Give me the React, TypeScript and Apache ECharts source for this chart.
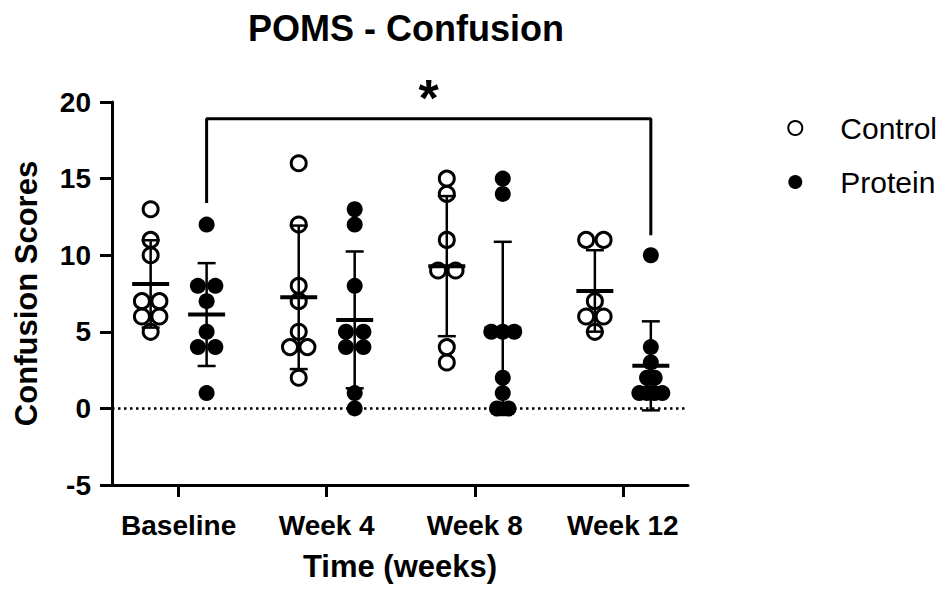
import React, { useEffect, useRef } from "react";
import * as echarts from "echarts";

const categories = ["Baseline", "Week 4", "Week 8", "Week 12"];

const controlBaseline = [13, 11, 10, 7, 7, 6, 6, 5];
const controlWeek4 = [16, 12, 8, 7, 5, 4, 4, 2];
const controlWeek8 = [15, 14, 11, 9, 9, 4, 3];
const controlWeek12 = [11, 11, 7, 6, 6, 5];

const proteinBaseline = [12, 8, 8, 7, 5, 4, 4, 1];
const proteinWeek4 = [13, 12, 8, 5, 5, 4, 4, 1, 0];
const proteinWeek8 = [15, 14, 5, 5, 5, 2, 1, 0, 0];
const proteinWeek12 = [10, 4, 3, 2, 2, 1, 1, 1, 1];

const yTicks = [-5, 0, 5, 10, 15, 20];

// significance bracket: from Protein Baseline to Protein Week 12
const bracketFrom = { group: 0, low: 13.4 };
const bracketTo = { group: 3, low: 11.3 };
const bracketTop = 18.9;
const bracketLabel = "*";
const bracketLabelY = 20.25;

const controlGroups = [controlBaseline, controlWeek4, controlWeek8, controlWeek12];
const proteinGroups = [proteinBaseline, proteinWeek4, proteinWeek8, proteinWeek12];

const X_MIN = -0.45;
const X_MAX = 3.44;
const OFFSET = 0.189;
const FONT = "'Liberation Sans', Arial, Helvetica, sans-serif";

function mean(a: number[]) {
  return a.reduce((s, v) => s + v, 0) / a.length;
}
function sd(a: number[]) {
  const m = mean(a);
  return Math.sqrt(a.reduce((s, v) => s + (v - m) * (v - m), 0) / (a.length - 1));
}
function spread(values: number[], center: number) {
  const counts = new Map<number, number>();
  values.forEach((v) => counts.set(v, (counts.get(v) || 0) + 1));
  const maxDup = Math.max(...Array.from(counts.values()));
  const step = maxDup > 1 ? Math.min(0.118, 0.155 / (maxDup - 1)) : 0;
  const seen = new Map<number, number>();
  return values.map((v) => {
    const n = counts.get(v) || 1;
    const k = seen.get(v) || 0;
    seen.set(v, k + 1);
    return [center + (k - (n - 1) / 2) * step, v];
  });
}

function errorRender(params: any, api: any) {
  const x = api.value(0);
  const m = api.value(1);
  const s = api.value(2);
  const c = api.coord([x, m]);
  const t = api.coord([x, m + s]);
  const b = api.coord([x, m - s]);
  const st = { stroke: "#000", lineWidth: 2.5 };
  return {
    type: "group",
    children: [
      { type: "line", shape: { x1: c[0], y1: t[1], x2: c[0], y2: b[1] }, style: st },
      { type: "line", shape: { x1: c[0] - 9, y1: t[1], x2: c[0] + 9, y2: t[1] }, style: st },
      { type: "line", shape: { x1: c[0] - 9, y1: b[1], x2: c[0] + 9, y2: b[1] }, style: st },
      {
        type: "line",
        shape: { x1: c[0] - 18.5, y1: c[1], x2: c[0] + 18.5, y2: c[1] },
        style: { stroke: "#000", lineWidth: 4 },
      },
    ],
  };
}

export default function App() {
  const ref = useRef<HTMLDivElement>(null);
  useEffect(() => {
    if (!ref.current) return;
    const chart = echarts.init(ref.current, undefined, { renderer: "svg" });

    const controlData = controlGroups.flatMap((g, i) => spread(g, i - OFFSET));
    const proteinData = proteinGroups.flatMap((g, i) => spread(g, i + OFFSET));
    const controlStats = controlGroups.map((g, i) => [i - OFFSET, mean(g), sd(g)]);
    const proteinStats = proteinGroups.map((g, i) => [i + OFFSET, mean(g), sd(g)]);

    const bx1 = bracketFrom.group + OFFSET;
    const bx2 = bracketTo.group + OFFSET;
    const bracketData = [
      [bx1, bracketFrom.low],
      [bx1, bracketTop],
      [bx2, bracketTop],
      [bx2, bracketTo.low],
    ];

    chart.setOption({
      animation: false,
      backgroundColor: "#fff",
      textStyle: { fontFamily: FONT, color: "#000" },
      title: {
        text: "POMS - Confusion",
        left: 401,
        textAlign: "center",
        top: 5,
        textStyle: { fontFamily: FONT, fontSize: 36, fontWeight: "bold", color: "#000" },
      },
      legend: {
        orient: "vertical",
        right: 8,
        top: 113,
        padding: 0,
        align: "left",
        itemWidth: 80,
        itemHeight: 14,
        itemGap: 24,
        icon: "circle",
        textStyle: { fontFamily: FONT, fontSize: 30, color: "#000", lineHeight: 30 },
        data: ["Control", "Protein"],
      },
      grid: { left: 112, right: 257, top: 102, bottom: 107 },
      xAxis: {
        type: "value",
        min: X_MIN,
        max: X_MAX,
        name: "Time (weeks)",
        nameLocation: "middle",
        nameGap: 66,
        nameTextStyle: { fontFamily: FONT, fontSize: 31, fontWeight: "bold", color: "#000" },
        splitLine: { show: false },
        axisLine: { onZero: false, lineStyle: { color: "#000", width: 3 } },
        axisTick: {
          customValues: [0, 1, 2, 3],
          length: 12,
          lineStyle: { color: "#000", width: 3 },
        },
        axisLabel: {
          customValues: [0, 1, 2, 3],
          formatter: (v: number) => categories[Math.round(v)],
          fontFamily: FONT,
          fontSize: 28,
          fontWeight: "bold",
          color: "#000",
          margin: 26,
        },
      },
      yAxis: {
        type: "value",
        min: yTicks[0],
        max: yTicks[yTicks.length - 1],
        interval: 5,
        name: "Confusion Scores",
        nameLocation: "middle",
        nameGap: 70,
        nameTextStyle: { fontFamily: FONT, fontSize: 31, fontWeight: "bold", color: "#000" },
        splitLine: { show: false },
        axisLine: { onZero: false, lineStyle: { color: "#000", width: 3 } },
        axisTick: { length: 12, lineStyle: { color: "#000", width: 3 } },
        axisLabel: {
          fontFamily: FONT,
          fontSize: 28,
          fontWeight: "bold",
          color: "#000",
          margin: 21,
        },
      },
      series: [
        {
          name: "Control",
          type: "scatter",
          data: controlData,
          symbol: "circle",
          symbolSize: 15,
          itemStyle: {
            color: "rgba(255,255,255,0)",
            borderColor: "#000",
            borderWidth: 3,
            opacity: 1,
          },
          z: 3,
        },
        {
          name: "Protein",
          type: "scatter",
          data: proteinData,
          symbol: "circle",
          symbolSize: 16,
          itemStyle: { color: "#000", opacity: 1 },
          z: 3,
          markLine: {
            silent: true,
            symbol: ["none", "none"],
            label: { show: false },
            data: [{ yAxis: 0 }],
            lineStyle: { color: "#000", width: 2.5, type: [2.5, 3.5] },
            z: 1,
          },
        },
        {
          type: "custom",
          name: "ControlStats",
          data: controlStats,
          renderItem: errorRender,
          encode: { x: 0, y: 1 },
          z: 4,
        },
        {
          type: "custom",
          name: "ProteinStats",
          data: proteinStats,
          renderItem: errorRender,
          encode: { x: 0, y: 1 },
          z: 4,
        },
        {
          type: "line",
          name: "bracket",
          data: bracketData,
          symbol: "none",
          lineStyle: { color: "#000", width: 3 },
          clip: false,
          z: 2,
        },
        {
          type: "scatter",
          name: "sig",
          data: [[(bx1 + bx2) / 2, bracketLabelY]],
          symbolSize: 10,
          clip: false,
          itemStyle: { color: "rgba(0,0,0,0)", opacity: 1 },
          label: {
            show: true,
            position: "inside",
            formatter: bracketLabel,
            fontFamily: FONT,
            fontSize: 52,
            fontWeight: "bold",
            color: "#000",
            opacity: 1,
          },
          z: 5,
        },
      ],
    });
    return () => chart.dispose();
  }, []);
  return (
    <div
      ref={ref}
      style={{ position: "fixed", left: 0, top: 0, width: 945, height: 592, background: "#fff" }}
    />
  );
}
